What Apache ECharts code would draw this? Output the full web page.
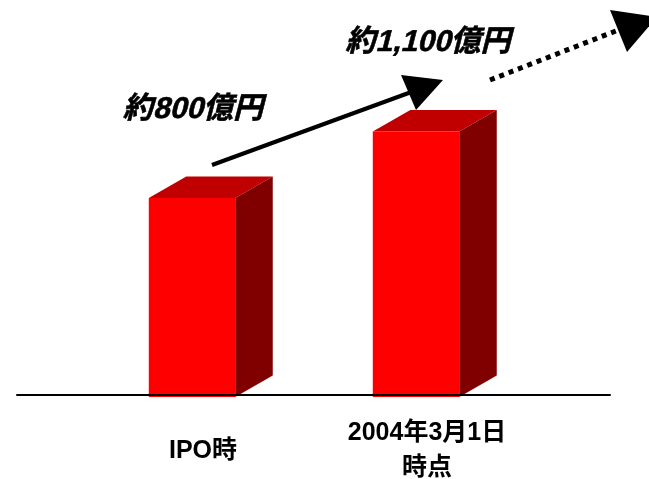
<!DOCTYPE html>
<html>
<head>
<meta charset="utf-8">
<script src="https://cdn.jsdelivr.net/npm/echarts@6.0.0/dist/echarts.min.js"></script>
<style>
html,body{margin:0;padding:0;background:#fff;}
#chart{width:649px;height:479px;}
</style>
</head>
<body>
<div id="chart"></div>
<script>
// ---- data ----
const categories = ['IPO時', '2004年3月1日\n時点'];
const values = [800, 1070];           // bar heights (億円)
const annotations = ['約800億円', '約1,100億円'];
const yMin = 0, yMax = 1600;

const FONT = '"Liberation Sans", Arial, "Noto Sans CJK JP", sans-serif';

const chart = echarts.init(document.getElementById('chart'), null, {renderer: 'canvas'});

function renderItem(params, api) {
  const i = api.value(0), v = api.value(1);
  const base = api.coord([i, 0]);
  const top = api.coord([i, v]);
  const band = api.size([1, 0])[0];
  const w = band * 0.386;
  const cx = base[0] - band * 0.049;
  const x0 = cx - w / 2, x1 = cx + w / 2;
  const yb = base[1] + 2, yt = top[1];
  const dx = 37.5, dy = 21.5;
  return {
    type: 'group',
    children: [
      {type: 'rect', shape: {x: x0, y: yt, width: w, height: yb - yt}, style: {fill: '#FF0000'}},
      {type: 'polygon', shape: {points: [[x0, yt], [x1, yt], [x1 + dx, yt - dy], [x0 + dx, yt - dy]]}, style: {fill: '#C00000'}},
      {type: 'polygon', shape: {points: [[x1, yt], [x1 + dx, yt - dy], [x1 + dx, yb - dy], [x1, yb]]}, style: {fill: '#800000'}}
    ]
  };
}

const option = {
  backgroundColor: '#ffffff',
  animation: false,
  grid: [
    {left: 91, right: 110, top: 1, bottom: 84, outerBoundsMode: 'none', containLabel: false},
    {left: 17, right: 39, top: 1, bottom: 84, outerBoundsMode: 'none', containLabel: false}
  ],
  xAxis: [
    {
      type: 'category', gridIndex: 0, data: categories,
      axisLine: {show: false}, axisTick: {show: false}, splitLine: {show: false},
      axisLabel: {
        interval: 0, margin: 56, verticalAlign: 'middle',
        color: '#000', fontSize: 25, fontWeight: 'bold', fontFamily: FONT, lineHeight: 35
      }
    },
    {
      type: 'value', gridIndex: 1, min: 0, max: 1, z: 10,
      axisLine: {show: true, onZero: false, lineStyle: {color: '#000', width: 2}},
      axisTick: {show: false}, axisLabel: {show: false}, splitLine: {show: false}
    }
  ],
  yAxis: [
    {type: 'value', gridIndex: 0, min: yMin, max: yMax, show: false, splitLine: {show: false}},
    {type: 'value', gridIndex: 1, min: 0, max: 1, show: false, splitLine: {show: false}}
  ],
  series: [
    {
      type: 'custom', xAxisIndex: 0, yAxisIndex: 0, z: 1,
      renderItem: renderItem,
      data: values.map((v, i) => [i, v])
    }
  ],
  graphic: [
    // solid arrow
    {type: 'line', shape: {x1: 212, y1: 165, x2: 425, y2: 87}, style: {stroke: '#000', lineWidth: 4}, z: 20},
    {type: 'polygon', shape: {points: [[443, 80], [401, 75], [416, 110]]}, style: {fill: '#000'}, z: 20},
    // dotted arrow
    {type: 'line', shape: {x1: 490, y1: 80, x2: 626, y2: 27}, style: {stroke: '#000', lineWidth: 5, lineDash: [5, 5]}, z: 20},
    {type: 'polygon', shape: {points: [[657, 17], [610, 10], [627, 52]]}, style: {fill: '#000'}, z: 20},
    // annotation texts (synthetic oblique via skew)
    {type: 'text', x: 195, y: 110, z: 20, skewX: -0.25,
      style: {text: annotations[0], fill: '#000', stroke: '#000', lineWidth: 0.6, font: 'bold 30px ' + FONT, align: 'center', verticalAlign: 'middle'}},
    {type: 'text', x: 430, y: 43, z: 20, skewX: -0.25,
      style: {text: annotations[1], fill: '#000', stroke: '#000', lineWidth: 0.6, font: 'bold 30px ' + FONT, align: 'center', verticalAlign: 'middle'}}
  ]
};
chart.setOption(option);
</script>
</body>
</html>
